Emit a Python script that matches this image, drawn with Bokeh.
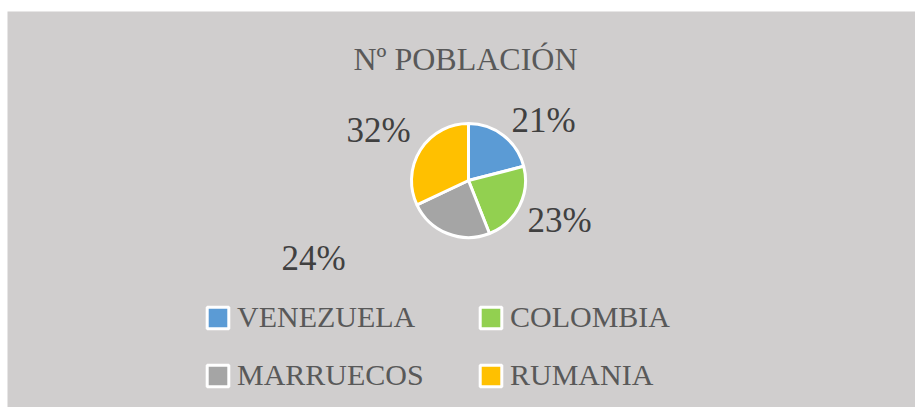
import numpy as np
from bokeh.plotting import figure
from bokeh.models import ColumnDataSource, Range1d, Legend, LegendItem, Label
from bokeh.core.properties import value
from bokeh.embed import file_html
from bokeh.resources import INLINE

# ---- data ----
categories = ["VENEZUELA", "COLOMBIA", "MARRUECOS", "RUMANIA"]
shares = [21, 23, 24, 32]
colors = ["#5B9BD5", "#92D050", "#A5A5A5", "#FFC000"]
title_text = "Nº POBLACIÓN"

# ---- layout (pixel-like data units) ----
W, H = 908, 396
FONT = "Liberation Serif"
BG = "#D0CECE"
CX, CY, R = 461, 227, 57
# data-label anchor points (Excel "best fit" placement)
label_x = [536, 552, 306, 371]
label_y = [287, 187, 149, 277]

p = figure(width=W, height=H, output_backend="svg", toolbar_location=None,
           x_range=Range1d(0, W), y_range=Range1d(0, H), min_border=0,
           margin=(11, 0, 0, 7))
p.axis.visible = False
p.grid.visible = False
p.outline_line_color = None
p.background_fill_color = BG
p.border_fill_color = BG

frac = np.array(shares, dtype=float) / sum(shares)
ends = np.pi / 2 - 2 * np.pi * np.cumsum(frac)
starts = np.concatenate([[np.pi / 2], ends[:-1]])

src = ColumnDataSource(dict(cat=categories, a0=ends, a1=starts, color=colors,
                            lx=label_x, ly=label_y,
                            txt=[f"{s}%" for s in shares]))

wr = p.wedge(x=CX, y=CY, radius=R, start_angle="a0", end_angle="a1",
             fill_color="color", line_color="white", line_width=3, source=src)

p.text(x="lx", y="ly", text="txt", source=src, text_align="center",
       text_baseline="middle", text_font=value(FONT), text_font_size="35px",
       text_color="#404040")

p.add_layout(Label(x=458, y=349, text=title_text, text_align="center",
                   text_baseline="middle", text_font=FONT,
                   text_font_size="32px", text_color="#595959"))

def make_legend(idx, loc):
    lg = Legend(items=[LegendItem(label=categories[i], renderers=[wr], index=i) for i in idx],
                location=loc, orientation="vertical",
                glyph_width=27, glyph_height=27, label_standoff=6,
                label_text_font=FONT, label_text_font_size="30px",
                label_text_color="#595959", background_fill_alpha=0,
                border_line_alpha=0, padding=0, margin=0, spacing=24)
    p.add_layout(lg, "center")

make_legend([0, 2], (197, 15))
make_legend([1, 3], (470, 15))

open("out.html", "w").write(file_html(p, INLINE))
